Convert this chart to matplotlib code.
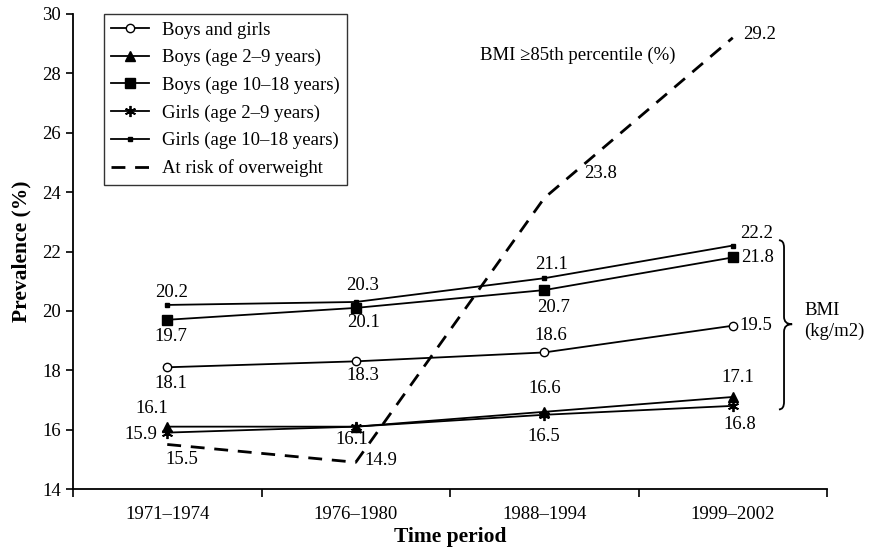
import numpy as np
import matplotlib
matplotlib.use("Agg")
import matplotlib.pyplot as plt
from matplotlib.path import Path
from matplotlib.patches import PathPatch

plt.rcParams["font.family"] = ["Liberation Serif", "DejaVu Serif"]

periods = ["1971–1974", "1976–1980", "1988–1994", "1999–2002"]

boys_girls = [18.1, 18.3, 18.6, 19.5]
boys_2_9 = [16.1, 16.1, 16.6, 17.1]
boys_10_18 = [19.7, 20.1, 20.7, 21.8]
girls_2_9 = [15.9, 16.1, 16.5, 16.8]
girls_10_18 = [20.2, 20.3, 21.1, 22.2]
at_risk = [15.5, 14.9, 23.8, 29.2]

# label offsets (pixels) for each value label, per series
lab_boys_girls = [(4, -16), (7, -14), (7, 17), (7, 0)]
lab_boys_2_9 = [(-15, 18), None, (0, 23), (5, 19)]
lab_boys_10_18 = [(4, -17), (8, -15), (9, -17), (8, 0)]
lab_girls_2_9 = [(-26, -2), (-4, -13), (0, -22), (7, -19)]
lab_girls_10_18 = [(4, 12), (7, 16), (7, 14), (7, 12)]
lab_at_risk = [(15, -15), (25, 2), (40, 25), (10, 3)]

FS = 13.5

fig = plt.figure(figsize=(8.73, 5.52), dpi=100)
ax = fig.add_axes([73 / 873, 1 - 489 / 552, 754 / 873, 475 / 552])

x = np.arange(len(periods))
lw = 1.3
series = [
    ("Boys and girls", boys_girls, dict(marker="o", ms=6, mfc="white", mec="black", mew=1.0)),
    ("Boys (age 2–9 years)", boys_2_9, dict(marker="^", ms=6.5, mfc="black", mec="black")),
    ("Boys (age 10–18 years)", boys_10_18, dict(marker="s", ms=7, mfc="black", mec="black")),
    ("Girls (age 2–9 years)", girls_2_9, dict(marker=(6, 2, 0), ms=8, mec="black", mew=1.3)),
    ("Girls (age 10–18 years)", girls_10_18, dict(marker="s", ms=3.5, mfc="black", mec="black")),
]
for name, vals, mk in series:
    ax.plot(x, vals, color="black", lw=lw, label=name, **mk)

ax.plot(x, at_risk, color="black", lw=2, ls=(0, (5, 3.5)), label="At risk of overweight")

# value labels
right_side = {(0, 3), (2, 3), (4, 3)}
all_series = [(boys_girls, lab_boys_girls), (boys_2_9, lab_boys_2_9), (boys_10_18, lab_boys_10_18),
              (girls_2_9, lab_girls_2_9), (girls_10_18, lab_girls_10_18)]
for k, (vals, labs) in enumerate(all_series):
    for i, (v, off) in enumerate(zip(vals, labs)):
        if off is None:
            continue
        ha = "left" if (k, i) in right_side else "center"
        ax.annotate(f"{v:.1f}", (x[i], v), xytext=off, textcoords="offset pixels",
                    ha=ha, va="center", fontsize=FS)
for i, (v, off) in enumerate(zip(at_risk, lab_at_risk)):
    ha = "left" if i in (2, 3) else "center"
    ax.annotate(f"{v:.1f}", (x[i], v), xytext=off, textcoords="offset pixels",
                ha=ha, va="center", fontsize=FS)

ax.text(2.18, 28.6, "BMI ≥85th percentile (%)", ha="center", va="center", fontsize=FS)

# curly brace for BMI group
xe, xb, xt = 3.245, 3.272, 3.315
ytop, ymid, ybot = 22.38, 19.55, 16.68
d = 0.25
verts = [(xe, ytop), (xb, ytop), (xb, ytop - d), (xb, ymid + d), (xb, ymid), (xt, ymid),
         (xb, ymid), (xb, ymid - d), (xb, ybot + d), (xb, ybot), (xe, ybot)]
codes = [Path.MOVETO, Path.CURVE3, Path.CURVE3, Path.LINETO, Path.CURVE3, Path.CURVE3,
         Path.CURVE3, Path.CURVE3, Path.LINETO, Path.CURVE3, Path.CURVE3]
ax.add_patch(PathPatch(Path(verts, codes), fc="none", ec="black", lw=1.3, clip_on=False))
ax.text(3.38, 20.0, "BMI", ha="left", va="center", fontsize=FS)
ax.text(3.38, 19.3, "(kg/m2)", ha="left", va="center", fontsize=FS, clip_on=False)

ax.set_xlim(-0.5, 3.5)
ax.set_ylim(14, 30)
ax.set_yticks(np.arange(14, 31, 2))
ax.set_xticks(x)
ax.set_xticklabels(periods, fontsize=FS)
ax.set_xticks(np.arange(-0.5, 3.6, 1), minor=True)
ax.tick_params(axis="x", which="major", length=0, pad=12)
ax.tick_params(axis="x", which="minor", length=6, width=1.2, direction="out")
ax.tick_params(axis="y", length=5, width=1.2, direction="out", labelsize=FS)
for s in ["top", "right"]:
    ax.spines[s].set_visible(False)
for s in ["left", "bottom"]:
    ax.spines[s].set_linewidth(1.3)

ax.set_ylabel("Prevalence (%)", fontsize=15.5, fontweight="bold", labelpad=8)
ax.set_xlabel("Time period", fontsize=15.5, fontweight="bold", labelpad=3)

leg = ax.legend(loc="upper left", bbox_to_anchor=(0.041, 1.0), borderaxespad=0, fontsize=FS,
                frameon=True, fancybox=False, edgecolor="black", handlelength=2.0,
                labelspacing=0.55, borderpad=0.4, handletextpad=0.7)
leg.get_frame().set_linewidth(1.0)

fig.savefig("out.png", dpi=100)
